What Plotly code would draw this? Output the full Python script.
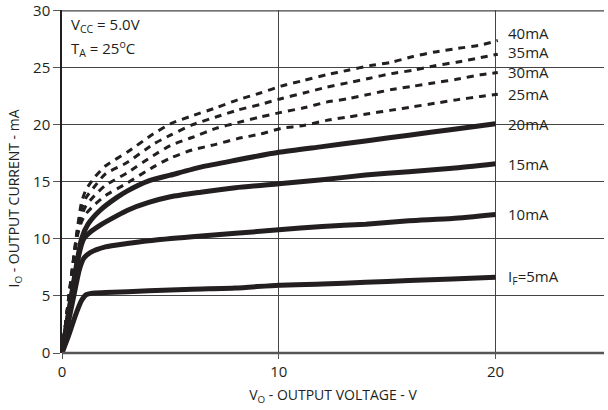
import plotly.graph_objects as go

# ---- data ----
x_5 = [0, 0.3, 0.6, 0.9, 1.1, 1.4, 2, 4, 6, 8, 10, 12, 14, 16, 18, 20]
i_5 = [0, 1.5, 3.2, 4.6, 5.1, 5.25, 5.3, 5.45, 5.6, 5.7, 5.95, 6.05, 6.2, 6.35, 6.5, 6.65]

x_10 = [0, 0.5, 0.8, 1.0, 1.3, 2, 3, 4, 6, 8, 10, 12, 14, 16, 18, 20]
i_10 = [0, 4.6, 7.3, 8.3, 8.8, 9.3, 9.6, 9.85, 10.2, 10.5, 10.8, 11.1, 11.3, 11.6, 11.8, 12.15]

x_15 = [0, 0.5, 0.8, 1.0, 1.3, 1.75, 2.5, 3, 4, 5, 6.4, 8, 10, 12, 14, 16, 18, 20]
i_15 = [0, 5.6, 8.8, 10.0, 10.6, 11.2, 12.0, 12.5, 13.2, 13.7, 14.1, 14.5, 14.85, 15.2, 15.6, 15.9, 16.2, 16.6]

x_20 = [0, 0.5, 0.9, 1.2, 1.75, 2.5, 3, 4, 5, 6.4, 8, 10, 12, 14, 16, 18, 20]
i_20 = [0, 5.8, 10.0, 11.3, 12.5, 13.6, 14.2, 15.1, 15.6, 16.3, 16.9, 17.6, 18.1, 18.6, 19.1, 19.6, 20.1]

x_dash = [0, 0.4, 0.7, 0.9, 1.1, 1.5, 2, 3, 4.2, 5, 6, 7.1, 8.1, 9.15, 10.1, 11.15,
          12.2, 13.2, 14.2, 15.2, 16.2, 17.2, 18.2, 19.3, 20.1]
i_25 = [0, 6.0, 10.2, 11.5, 12.2, 13.0, 13.8, 14.9, 16.3, 17.1, 17.8, 18.3, 18.8, 19.2, 19.7, 19.95,
        20.4, 20.7, 21.0, 21.3, 21.6, 21.9, 22.2, 22.5, 22.7]
i_30 = [0, 6.1, 10.4, 12.0, 12.9, 13.8, 14.7, 15.8, 17.3, 18.2, 18.9, 19.7, 20.2, 20.7, 21.1, 21.5,
        22.0, 22.3, 22.7, 23.1, 23.4, 23.7, 24.0, 24.4, 24.6]
i_35 = [0, 6.2, 10.6, 12.6, 13.6, 14.6, 15.7, 16.7, 18.3, 19.1, 20.0, 20.7, 21.3, 21.8, 22.3, 22.8,
        23.3, 23.7, 24.1, 24.5, 24.8, 25.2, 25.5, 25.9, 26.2]
i_40 = [0, 6.3, 10.8, 13.2, 14.3, 15.4, 16.4, 17.6, 19.2, 20.1, 20.8, 21.5, 22.2, 22.8, 23.4, 23.9,
        24.4, 24.8, 25.2, 25.5, 26.0, 26.4, 26.7, 27.0, 27.4]

curve_labels = ["40mA", "35mA", "30mA", "25mA", "20mA", "15mA", "10mA", "I<sub>F</sub>=5mA"]
label_y = [28.1, 26.4, 24.6, 22.7, 20.05, 16.55, 12.2, 6.65]

x_ticks = [0, 10, 20]
y_ticks = [0, 5, 10, 15, 20, 25, 30]

INK = "#231f20"
FONT = "Open Sans"

fig = go.Figure()

for xs, ys in [(x_dash, i_25), (x_dash, i_30), (x_dash, i_35), (x_dash, i_40)]:
    fig.add_trace(go.Scatter(x=xs, y=ys, mode="lines",
                             line=dict(color=INK, width=3, dash="7px,6px", shape="spline", smoothing=0.6),
                             hoverinfo="skip", showlegend=False))

for xs, ys in [(x_5, i_5), (x_10, i_10), (x_15, i_15), (x_20, i_20)]:
    fig.add_trace(go.Scatter(x=xs, y=ys, mode="lines",
                             line=dict(color=INK, width=5, shape="spline", smoothing=0.6),
                             hoverinfo="skip", showlegend=False))

annotations = []
for txt, yv in zip(curve_labels, label_y):
    annotations.append(dict(x=20.5, y=yv, xref="x", yref="y", text=txt, showarrow=False,
                            xanchor="left", yanchor="middle",
                            font=dict(family=FONT, size=15, color=INK)))

annotations.append(dict(x=0.012, y=0.957, xref="paper", yref="paper",
                        text="V<sub>CC</sub> = 5.0V", showarrow=False, xanchor="left",
                        yanchor="middle", font=dict(family=FONT, size=15, color=INK)))
annotations.append(dict(x=0.012, y=0.888, xref="paper", yref="paper",
                        text="T<sub>A</sub> = 25<sup>o</sup>C", showarrow=False, xanchor="left",
                        yanchor="middle", font=dict(family=FONT, size=15, color=INK)))
# y-axis title
annotations.append(dict(x=-0.087, y=0.45, xref="paper", yref="paper",
                        text="I<sub>O</sub> - OUTPUT CURRENT - mA", showarrow=False,
                        textangle=-90, xanchor="center", yanchor="middle",
                        font=dict(family=FONT, size=14, color=INK)))

fig.update_layout(
    width=608, height=410,
    margin=dict(l=62, r=4, t=10, b=57),
    paper_bgcolor="white", plot_bgcolor="white",
    font=dict(family=FONT, size=14, color=INK),
    annotations=annotations,
    hovermode=False,
    xaxis=dict(range=[0, 25], tickvals=x_ticks, ticktext=[str(v) for v in x_ticks],
               automargin=False,
               showgrid=True, gridcolor="#444444", gridwidth=1,
               zeroline=False, showline=False,
               ticks="outside", ticklen=5, tickcolor="#555555",
               title=dict(text="V<sub>O</sub> - OUTPUT VOLTAGE - V", standoff=10,
                          font=dict(family=FONT, size=14, color=INK)),
               tickfont=dict(family=FONT, size=15, color=INK)),
    yaxis=dict(range=[0, 30.08], tickvals=y_ticks, ticktext=[str(v) for v in y_ticks],
               automargin=False,
               showgrid=True, gridcolor="#444444", gridwidth=1,
               zeroline=False, showline=True, linecolor=INK, linewidth=1.5,
               ticks="outside", ticklen=7, tickcolor="#555555",
               tickfont=dict(family=FONT, size=15, color=INK)),
)

# thicker bottom axis line at y=0 and top border at y=30
fig.add_shape(type="line", xref="paper", yref="paper", x0=0, x1=1, y0=0, y1=0,
              line=dict(color="#555555", width=2.5), layer="above")
fig.add_shape(type="line", xref="paper", yref="y", x0=0, x1=1, y0=30, y1=30,
              line=dict(color="#444444", width=1.2), layer="above")

fig.write_html("out.html", config={"displayModeBar": False},
               post_script="document.body.style.margin='0';document.body.style.overflow='hidden';")
